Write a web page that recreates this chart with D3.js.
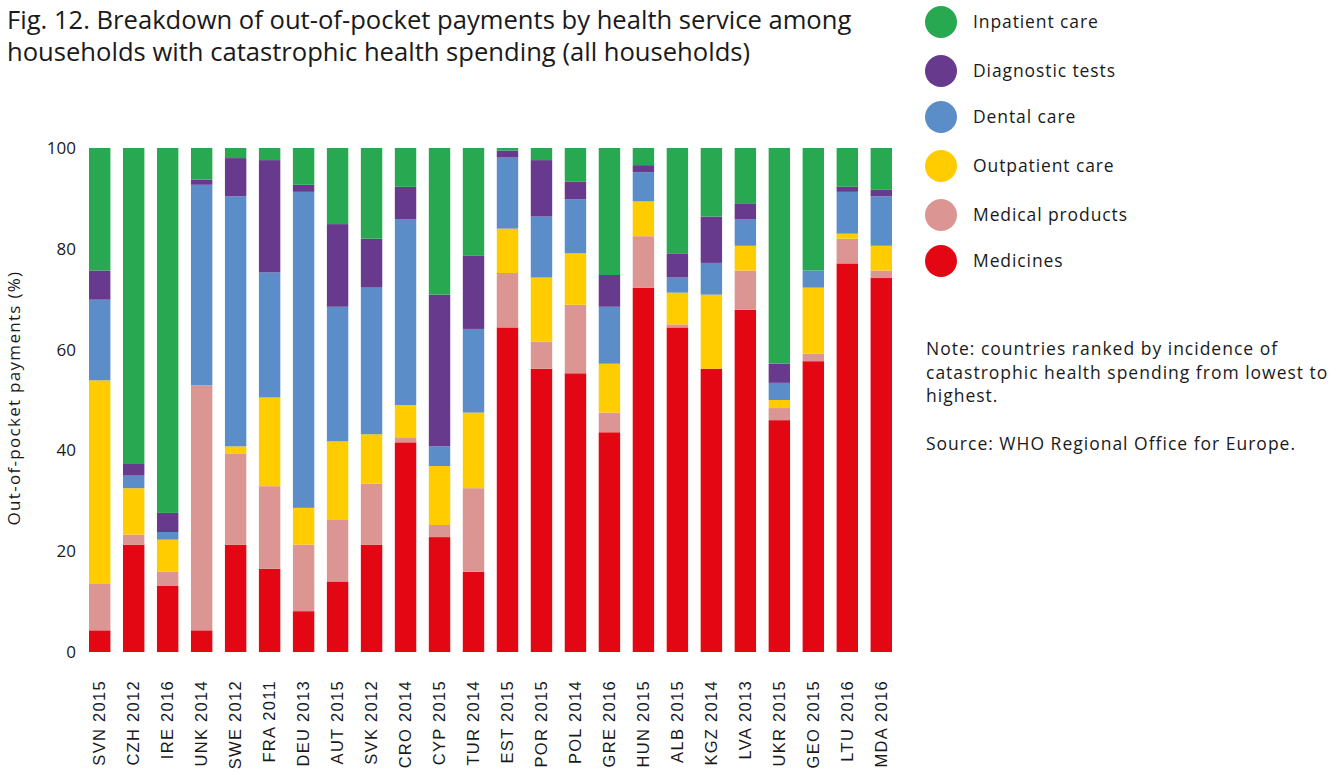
<!DOCTYPE html>
<html>
<head>
<meta charset="utf-8">
<script src="https://cdn.jsdelivr.net/npm/d3@7"></script>
<style>
  body { margin: 0; background: #fff; }
  svg { display: block; font-family: "Open Sans", "Noto Sans", sans-serif; }
</style>
</head>
<body>
<svg id="chart" width="1339" height="776"></svg>
<script>
// countries ranked by incidence of catastrophic health spending
const countries = ["SVN 2015", "CZH 2012", "IRE 2016", "UNK 2014", "SWE 2012", "FRA 2011",
  "DEU 2013", "AUT 2015", "SVK 2012", "CRO 2014", "CYP 2015", "TUR 2014", "EST 2015",
  "POR 2015", "POL 2014", "GRE 2016", "HUN 2015", "ALB 2015", "KGZ 2014", "LVA 2013",
  "UKR 2015", "GEO 2015", "LTU 2016", "MDA 2016"];

// shares (%) per service, stacked bottom to top
const medicines = [4.3, 21.3, 13.1, 4.3, 21.3, 16.5, 8.1, 14.0, 21.3, 41.6, 22.8, 15.9, 64.4,
  56.2, 55.3, 43.6, 72.3, 64.4, 56.2, 67.9, 46.0, 57.7, 77.1, 74.2];
const medicalProducts = [9.2, 2.0, 2.8, 48.6, 18.0, 16.4, 13.2, 12.2, 12.1, 1.0, 2.4, 16.6, 10.8,
  5.4, 13.6, 3.9, 10.2, 0.6, 0, 7.8, 2.4, 1.5, 4.9, 1.5];
const outpatient = [40.4, 9.2, 6.4, 0, 1.5, 17.6, 7.3, 15.6, 9.8, 6.4, 11.7, 15.0, 8.8,
  12.7, 10.2, 9.7, 6.9, 6.3, 14.7, 4.9, 1.6, 13.1, 1.0, 4.9];
const dental = [16.0, 2.5, 1.5, 39.8, 49.6, 24.8, 62.7, 26.7, 29.1, 36.9, 3.9, 16.6, 14.1,
  12.1, 10.7, 11.3, 5.8, 3.0, 6.3, 5.3, 3.4, 3.4, 8.3, 9.8];
const diagnostic = [5.8, 2.3, 3.8, 1.0, 7.6, 22.3, 1.4, 16.4, 9.7, 6.4, 30.1, 14.5, 1.4,
  11.2, 3.5, 6.3, 1.4, 4.8, 9.2, 3.0, 3.8, 0, 1.0, 1.3];
const inpatient = [24.3, 62.7, 72.4, 6.3, 2.0, 2.4, 7.3, 15.1, 18.0, 7.7, 29.1, 21.4, 0.5,
  2.4, 6.7, 25.2, 3.4, 20.9, 13.6, 11.1, 42.8, 24.3, 7.7, 8.3];

const yTicks = [0, 20, 40, 60, 80, 100];

const series = [
  { key: "medicines", name: "Medicines", color: "#e30613", values: medicines },
  { key: "medicalProducts", name: "Medical products", color: "#db9693", values: medicalProducts },
  { key: "outpatient", name: "Outpatient care", color: "#ffcc00", values: outpatient },
  { key: "dental", name: "Dental care", color: "#5b8ec9", values: dental },
  { key: "diagnostic", name: "Diagnostic tests", color: "#683a8e", values: diagnostic },
  { key: "inpatient", name: "Inpatient care", color: "#27a851", values: inpatient }
];

const svg = d3.select("#chart");

const table = countries.map((c, i) => {
  const row = { country: c };
  series.forEach(s => { row[s.key] = s.values[i]; });
  return row;
});

const stack = d3.stack().keys(series.map(s => s.key));
const stacked = stack(table);

const x = d3.scaleBand()
  .domain(countries)
  .range([89, 892])
  .paddingInner(0.37)
  .paddingOuter(0);

const y = d3.scaleLinear().domain([0, 100]).range([652, 148]);

// title
const titleLines = [
  "Fig. 12. Breakdown of out-of-pocket payments by health service among",
  "households with catastrophic health spending (all households)"
];
svg.append("g")
  .selectAll("text")
  .data(titleLines)
  .join("text")
  .attr("x", 7)
  .attr("y", (d, i) => 29 + i * 32)
  .attr("font-size", 25.6)
  .attr("fill", "#1a1a1a")
  .text(d => d);

// bars
const layers = svg.append("g")
  .selectAll("g")
  .data(stacked)
  .join("g")
  .attr("fill", (d, i) => series[i].color);

layers.selectAll("rect")
  .data(d => d)
  .join("rect")
  .attr("x", d => x(d.data.country))
  .attr("y", d => y(Math.min(d[1], 100)))
  .attr("width", x.bandwidth())
  .attr("height", d => Math.max(0, y(d[0]) - y(Math.min(d[1], 100))));

// y axis
const yAxis = svg.append("g")
  .attr("transform", "translate(76,0)")
  .call(d3.axisLeft(y).tickValues(yTicks).tickSize(0).tickPadding(0));
yAxis.select(".domain").remove();
yAxis.selectAll("text")
  .attr("font-size", 17)
  .attr("font-family", "Open Sans, sans-serif")
  .attr("fill", "#1a1a1a");

svg.append("text")
  .attr("transform", "rotate(-90)")
  .attr("x", -398)
  .attr("y", 20)
  .attr("text-anchor", "middle")
  .attr("font-size", 17)
  .attr("letter-spacing", 1.3)
  .attr("fill", "#1a1a1a")
  .text("Out-of-pocket payments (%)");

// x axis labels
const xAxis = svg.append("g")
  .attr("transform", "translate(0,680)")
  .call(d3.axisBottom(x).tickSize(0).tickPadding(0));
xAxis.select(".domain").remove();
xAxis.selectAll("text")
  .attr("transform", "rotate(-90)")
  .attr("text-anchor", "end")
  .attr("x", 0)
  .attr("y", 0)
  .attr("dy", "0.35em")
  .attr("font-size", 16.5)
  .attr("letter-spacing", 1.3)
  .attr("fill", "#1a1a1a");

// legend
const legendItems = series.slice().reverse();
const legendY = [22, 71, 117, 166, 215, 261];
const legend = svg.append("g")
  .selectAll("g")
  .data(legendItems)
  .join("g")
  .attr("transform", (d, i) => `translate(941,${legendY[i]})`);
legend.append("circle")
  .attr("r", 16)
  .attr("fill", d => d.color);
legend.append("text")
  .attr("x", 32)
  .attr("dy", "0.35em")
  .attr("font-size", 17.5)
  .attr("letter-spacing", 0.9)
  .attr("fill", "#1a1a1a")
  .text(d => d.name);

// note and source
const noteLines = [
  "Note: countries ranked by incidence of",
  "catastrophic health spending from lowest to",
  "highest."
];
svg.append("g")
  .selectAll("text")
  .data(noteLines)
  .join("text")
  .attr("x", 926)
  .attr("y", (d, i) => 355 + i * 23.5)
  .attr("font-size", 17.5)
  .attr("letter-spacing", 1)
  .attr("fill", "#1a1a1a")
  .text(d => d);

svg.append("text")
  .attr("x", 926)
  .attr("y", 450)
  .attr("font-size", 17.5)
  .attr("letter-spacing", 1)
  .attr("fill", "#1a1a1a")
  .text("Source: WHO Regional Office for Europe.");
</script>
</body>
</html>
